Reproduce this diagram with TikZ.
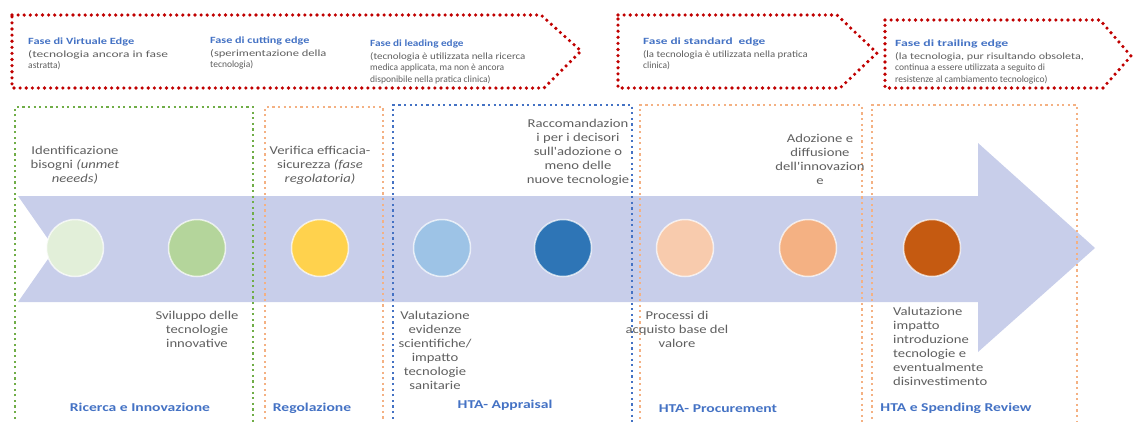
\documentclass[tikz,border=0pt]{standalone}
\usepackage{fontspec}
\setmainfont{Carlito}
\newfontfamily\bodyfont[FakeStretch=1.22]{Carlito}
\newfontfamily\labelfont[FakeStretch=1.3]{Carlito}
\definecolor{chevred}{RGB}{192,0,0}
\definecolor{arrowfill}{RGB}{200,206,234}
\definecolor{secgreen}{RGB}{112,173,71}
\definecolor{secorange}{RGB}{244,177,131}
\definecolor{secblue}{RGB}{68,114,196}
\definecolor{bodygray}{RGB}{95,95,95}
\definecolor{titleblue}{RGB}{68,114,196}
\definecolor{cA}{RGB}{226,239,217}
\definecolor{cB}{RGB}{180,213,155}
\definecolor{cC}{RGB}{255,210,77}
\definecolor{cD}{RGB}{157,195,230}
\definecolor{cE}{RGB}{46,117,182}
\definecolor{cF}{RGB}{248,203,173}
\definecolor{cG}{RGB}{244,177,131}
\definecolor{cH}{RGB}{197,90,17}
\begin{document}
\begin{tikzpicture}[x=1pt,y=-1pt,
  redchev/.style={draw=chevred, line width=3.6pt, dash pattern=on 0pt off 6.1pt, line cap=round, line join=round},
  secbox/.style={line width=2.4pt, dash pattern=on 2.2pt off 3.4pt},
  circ/.style={circle, minimum size=57pt, inner sep=0pt, draw=white, draw opacity=0.7, line width=1.5pt},
  body/.style={font=\bodyfont\fontsize{12}{14}\selectfont, text=bodygray, inner sep=0pt},
  ptitle/.style={font=\fontsize{9.5}{11}\selectfont\bfseries, text=titleblue, inner sep=0pt, anchor=base west},
  pdesc/.style={font=\fontsize{9.5}{11.5}\selectfont, text=bodygray, inner sep=0pt, anchor=north west, align=left},
  seclabel/.style={font=\labelfont\fontsize{12}{14}\selectfont\bfseries, text=titleblue, inner sep=0pt, anchor=base}]
\useasboundingbox (0,0) rectangle (1135,421);
\clip (0,0) rectangle (1135,421);
% big arrow
\fill[arrowfill] (18,196) -- (978,196) -- (978,143) -- (1095,248) -- (978,352) -- (978,302) -- (18,302) -- (55,249) -- cycle;
% circles
\node[circ, fill=cA] (c1) at (75,248) {};
\node[circ, fill=cB] (c2) at (197,248) {};
\node[circ, fill=cC] (c3) at (320,248) {};
\node[circ, fill=cD] (c4) at (442,248) {};
\node[circ, fill=cE] (c5) at (563,248) {};
\node[circ, fill=cF] (c6) at (685,248) {};
\node[circ, fill=cG] (c7) at (808,248) {};
\node[circ, fill=cH] (c8) at (932,248) {};
% section boxes
\draw[secbox, draw=secgreen] (15,430) -- (15,107) -- (253,107) -- (253,430);
\draw[secbox, draw=secorange] (265,430) -- (265,107) -- (383,107) -- (383,430);
\draw[secbox, draw=secblue] (393,430) -- (393,105) -- (632,105) -- (632,430);
\draw[secbox, draw=secorange] (640,430) -- (640,105) -- (862,105) -- (862,430);
\draw[secbox, draw=secorange] (872,430) -- (872,105) -- (1077,105) -- (1077,430);
% chevrons
\draw[redchev] (12,15) -- (541,15) -- (581,51) -- (544,88) -- (12,88) -- cycle;
\draw[redchev] (618,15) -- (837,15) -- (877,53) -- (840,88) -- (618,88) -- cycle;
\draw[redchev] (885,20) -- (1100,20) -- (1131,56) -- (1103,88) -- (885,88) -- cycle;
% banner texts
\node[ptitle] (p1) at (28,44) {\addfontfeature{FakeStretch=1.3}Fase di Virtuale Edge};
\node[pdesc] (d1) at (28,50) {\addfontfeature{FakeStretch=1.42}(tecnologia ancora in fase\\astratta)};
\node[ptitle] (p2) at (210,43) {\addfontfeature{FakeStretch=1.28}Fase di cutting edge};
\node[pdesc] (d2) at (210,49) {\addfontfeature{FakeStretch=1.32}(sperimentazione della\\tecnologia)};
\node[ptitle] (p3) at (370,46) {\addfontfeature{FakeStretch=1.18}Fase di leading edge};
\node[pdesc] (d3) at (370,52) {\addfontfeature{FakeStretch=1.15}(tecnologia è utilizzata nella ricerca\\medica applicata, ma non è ancora\\disponibile nella pratica clinica)};
\node[ptitle] (p4) at (643,44) {\addfontfeature{FakeStretch=1.4}Fase di standard \ edge};
\node[pdesc] (d4) at (643,50) {\addfontfeature{FakeStretch=1.14}(la tecnologia è utilizzata nella pratica\\clinica)};
\node[ptitle] (p5) at (895,46) {\addfontfeature{FakeStretch=1.45}Fase di trailing edge};
\node[pdesc] (d5) at (895,52) {\addfontfeature{FakeStretch=1.27}(la tecnologia, pur risultando obsoleta,\\continua a essere utilizzata a seguito di\\resistenze al cambiamento tecnologico)};
% upper texts
\node[body, anchor=north, align=center] (t1) at (75,146) {Identificazione\\bisogni \textit{(unmet}\\\textit{neeeds)}};
\node[body, anchor=north, align=center] (t3) at (320,146) {Verifica efficacia-\\sicurezza \textit{(fase}\\\textit{regolatoria)}};
\node[body, anchor=north, align=center] (t5) at (578,119) {Raccomandazion\\i per i decisori\\sull'adozione o\\meno delle\\nuove tecnologie};
\node[body, anchor=north, align=center] (t7) at (820,134) {Adozione e\\diffusione\\dell'innovazion\\e};
% lower texts
\node[body, anchor=north, align=center] (t2) at (197,311) {Sviluppo delle\\tecnologie\\innovative};
\node[body, anchor=north, align=center] (t4) at (435,311) {Valutazione\\evidenze\\scientifiche/\\impatto\\tecnologie\\sanitarie};
\node[body, anchor=north, align=center] (t6) at (677,311) {Processi di\\acquisto base del\\valore};
\node[body, anchor=north west, align=left] (t8) at (893,307) {Valutazione\\impatto\\introduzione\\tecnologie e\\eventualmente\\disinvestimento};
% section labels
\node[seclabel] (s1) at (140,411) {Ricerca e Innovazione};
\node[seclabel] (s2) at (312,411) {Regolazione};
\node[seclabel] (s3) at (505,408) {HTA- Appraisal};
\node[seclabel] (s4) at (718,412) {HTA- Procurement};
\node[seclabel] (s5) at (956,411) {HTA e Spending Review};
\end{tikzpicture}
\end{document}
